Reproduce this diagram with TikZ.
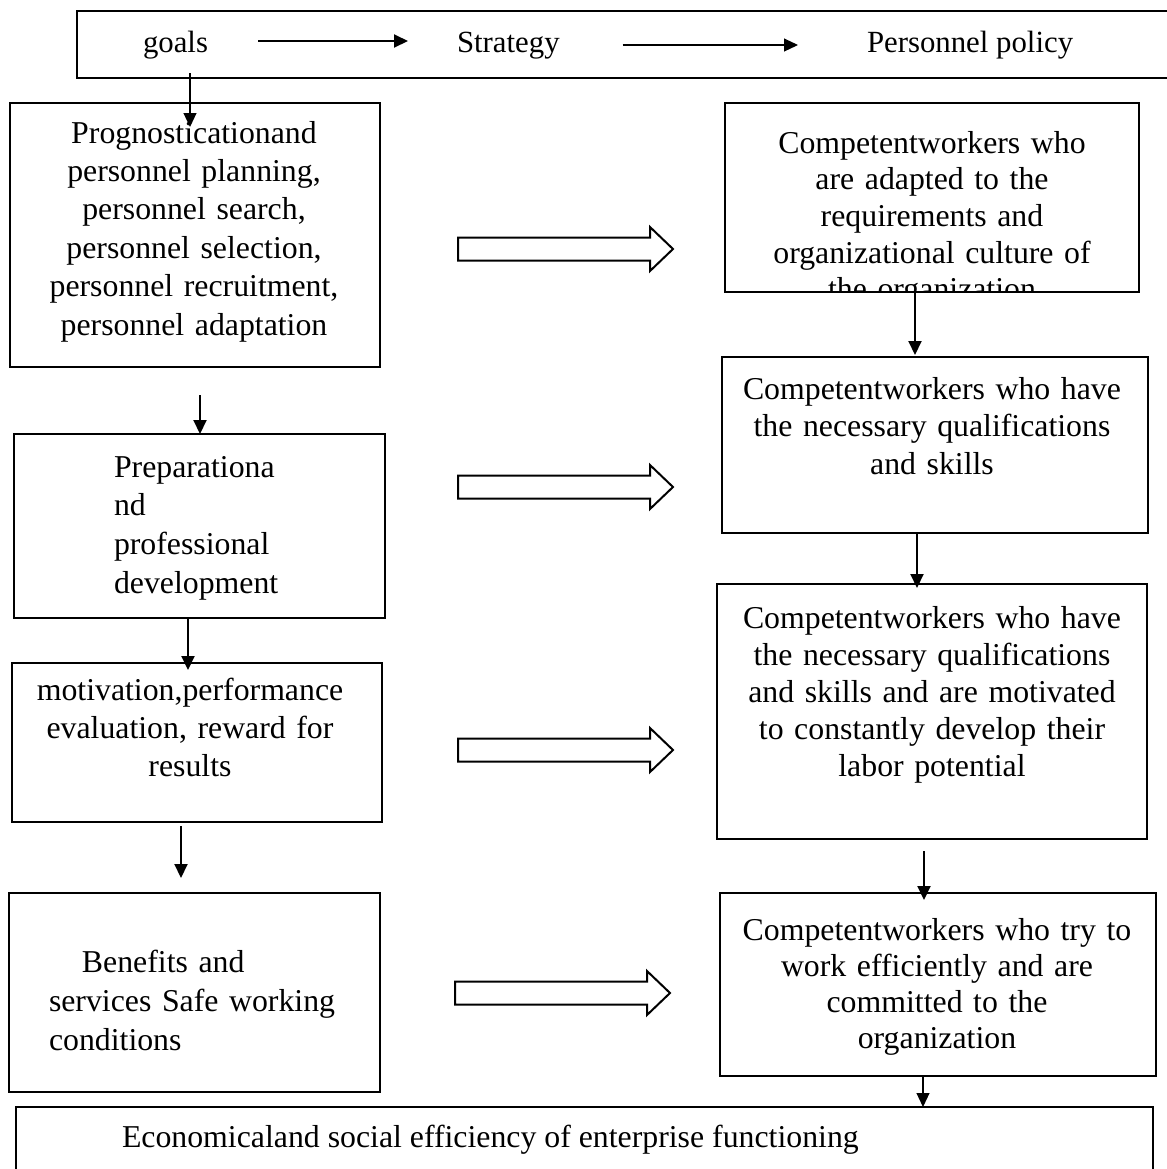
\documentclass[tikz,border=0pt]{standalone}
\usepackage{fontspec}
\setmainfont{Liberation Serif}
\usetikzlibrary{arrows.meta,fit}
\tikzset{
  box/.style={draw,line width=1.3pt,inner sep=0pt,outer sep=0pt},
  txt/.style={inner sep=0pt,outer sep=0pt,font=\fontsize{15.9pt}{19pt}\selectfont},
  headtxt/.style={inner sep=0pt,outer sep=0pt,font=\fontsize{15.4pt}{19pt}\selectfont},
  lsp/.style={font=\fontsize{15.9pt}{#1}\selectfont},
  arr/.style={line width=1pt,-{Triangle[length=7pt,width=6.5pt]}},
  thinarr/.style={line width=0.55pt,-{Triangle[length=7pt,width=6.5pt]}},
  blockarrow/.pic={\draw[line width=1pt,line join=miter]
    (0,-11.5) -- (192,-11.5) -- (192,-22) -- (215,0) -- (192,22) -- (192,11.5) -- (0,11.5) -- cycle;}
}
\begin{document}
\begin{tikzpicture}[x=0.5pt,y=-0.5pt]
\useasboundingbox (0,0) rectangle (1167,1169);
\clip (0,0) rectangle (1167,1169);

% header strip
\node[box,fit={(77,11) (1190,78)}] (top) {};
\node[headtxt,anchor=base west] (goals) at (143,52) {goals};
\node[headtxt,anchor=base west] (strat) at (457,52) {Strategy};
\node[headtxt,anchor=base west] (policy) at (867,52) {Personnel policy};
\draw[arr] ([xshift=25pt,yshift=5.5pt]goals.base east) -- ([xshift=-24.5pt,yshift=5.5pt]strat.base west);
\draw[thinarr] ([xshift=31.5pt,yshift=3.5pt]strat.base east) -- ([xshift=-34.5pt,yshift=3.5pt]policy.base west);

% left column
\node[box,fit={(10,103) (380,367)}] (L1) {};
\node[txt,lsp=19.2pt,text width=178pt,align=center,anchor=base] (L1t) at (194,143)
  {Prognosticationand\\personnel planning,\\personnel search,\\personnel selection,\\personnel recruitment,\\personnel adaptation};

\node[box,fit={(14,434) (385,618)}] (L2) {};
\node[txt,lsp=19.35pt,text width=130pt,align=left,anchor=base west] (L2t) at (114,477)
  {Preparationa\\nd\\professional\\development};

\node[box,fit={(12,663) (382,822)}] (L3) {};
\node[txt,lsp=19.2pt,text width=182pt,align=center,anchor=base] (L3t) at (190,700)
  {motivation,performance\\evaluation, reward for\\results};

\node[box,fit={(9,893) (380,1092)}] (L4) {};
\node[txt,lsp=19.5pt,text width=160pt,align=left,anchor=base west] (L4t) at (49,972)
  {\hspace*{16.5pt}Benefits and\\services Safe working\\conditions};

% right column
\node[box,fit={(725,103) (1139,292)}] (R1) {};
\begin{scope}
  \clip (R1.north west) rectangle (R1.south east);
  \node[txt,lsp=18.35pt,text width=204pt,align=center,anchor=base] (R1t) at (932,153)
    {Competentworkers who\\are adapted to the\\requirements and\\organizational culture of\\the organization};
\end{scope}

\node[box,fit={(722,357) (1148,533)}] (R2) {};
\node[txt,lsp=18.75pt,text width=208pt,align=center,anchor=base] (R2t) at (932,399)
  {Competentworkers who have\\the necessary qualifications\\and skills};

\node[box,fit={(717,584) (1147,839)}] (R3) {};
\node[txt,lsp=18.6pt,text width=208pt,align=center,anchor=base] (R3t) at (932,628)
  {Competentworkers who have\\the necessary qualifications\\and skills and are motivated\\to constantly develop their\\labor potential};

\node[box,fit={(720,893) (1156,1076)}] (R4) {};
\node[txt,lsp=18pt,text width=208pt,align=center,anchor=base] (R4t) at (937,940)
  {Competentworkers who try to\\work efficiently and are\\committed to the\\organization};

% result strip
\node[box,fit={(16,1107) (1153,1240)}] (res) {};
\node[txt,anchor=base west] (rest) at (122,1147)
  {Economicaland social efficiency of enterprise functioning};

% vertical connectors
\coordinate (g0) at (190,73);
\draw[thinarr,shorten >=-12pt] (g0) -- (g0 |- L1.north);
\coordinate (c1) at (200,395);
\draw[arr] (c1) -- (c1 |- L2.north);
\coordinate (x2) at (188,0);
\draw[arr,shorten >=-3.5pt] (L2.south -| x2) -- (L3.north -| x2);
\coordinate (c3) at (181,826);
\draw[arr,shorten >=7.5pt] (c3) -- (c3 |- L4.north);

\coordinate (x5) at (915,0);
\draw[arr,shorten >=1pt] (R1.south -| x5) -- (R2.north -| x5);
\coordinate (x6) at (917,0);
\draw[arr,shorten >=-2pt] (R2.south -| x6) -- (R3.north -| x6);
\coordinate (c7) at (924,851);
\draw[arr,shorten >=-3.5pt] (c7) -- (c7 |- R4.north);
\coordinate (x8) at (923,0);
\draw[thinarr] (R4.south -| x8) -- (res.north -| x8);

% hollow arrows between the columns
\pic at (458,249) {blockarrow};
\pic at (458,487) {blockarrow};
\pic at (458,750) {blockarrow};
\pic at (455,993) {blockarrow};
\end{tikzpicture}
\end{document}
